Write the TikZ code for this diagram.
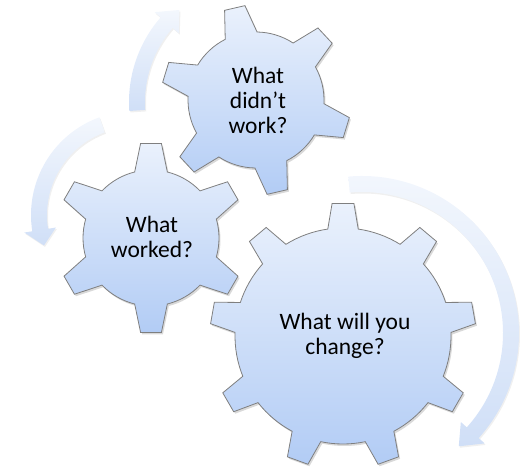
\documentclass[tikz,border=0pt]{standalone}
\usepackage{fontspec}
\setmainfont{Carlito}
\usepackage{tikz}
\usetikzlibrary{calc,shadows}
\definecolor{geartop}{HTML}{EAF1FC}
\definecolor{gearbottom}{HTML}{B2CCF5}
\definecolor{gearline}{HTML}{7F7F7F}
\definecolor{arrowtop}{HTML}{F3F7FD}
\definecolor{arrowbottom}{HTML}{D0DFF7}
\newcommand{\gearoutline}[6]{%
  ({#2-#5}:#3)
  \foreach \k [evaluate=\k as \a using {#2+(\k-1)*360/#1}] in {1,...,#1} {
    -- ({\a-#6}:#4) -- ({\a+#6}:#4) -- ({\a+#5}:#3)
    arc[start angle=\a+#5, end angle=\a+360/#1-#5, radius=#3]
  } -- cycle}
\newcommand{\arcarrow}[6]{%
  ([shift={#1}]#4:{#2+#3}) arc[start angle=#4, end angle=#5, radius=#2+#3]
  -- ([shift={#1}]#5:{#2+2*#3}) -- ([shift={#1}]#6:#2)
  -- ([shift={#1}]#5:{#2-2*#3}) -- ([shift={#1}]#5:{#2-#3})
  arc[start angle=#5, end angle=#4, radius=#2-#3] -- cycle}
\tikzset{
  gear/.style={
    draw=gearline,
    line width=0.8pt,
    top color=geartop,
    bottom color=gearbottom,
    drop shadow={shadow xshift=1.5pt, shadow yshift=-2pt, opacity=0.3}
  },
  cyclearrow/.style={
    top color=arrowtop,
    bottom color=arrowbottom,
    drop shadow={shadow xshift=1pt, shadow yshift=-1.5pt, opacity=0.12}
  },
  gearlabel/.style={
    align=center,
    font=\fontsize{23.5}{25}\selectfont,
    inner sep=0pt
  }
}

\begin{document}
\begin{tikzpicture}[x=1pt, y=1pt]
    \useasboundingbox (0,0) rectangle (530,468);
    \coordinate (gearA) at (256,368);
    \coordinate (gearB) at (151,230);
    \coordinate (gearC) at (343,132);
    \path[cyclearrow] \arcarrow{(258,366)}{121}{8}{184}{139}{130.5};
    \path[cyclearrow] \arcarrow{(135,253)}{96}{8}{110}{189}{198.5};
    \path[cyclearrow] \arcarrow{(362,135)}{149}{8}{95}{-42}{-49.5};
    \draw[gear, shift={(gearA)}] \gearoutline{6}{43}{68}{95}{13.9}{6.3};
    \draw[gear, shift={(gearB)}] \gearoutline{6}{30}{68}{95}{13.9}{6.3};
    \draw[gear, shift={(gearC)}] \gearoutline{9}{10}{108}{133}{8.1}{4.7};
    \node[gearlabel] (didnt) at (258,368) {What\\didn’t\\work?};
    \node[gearlabel] (worked) at (152,231) {What\\worked?};
    \node[gearlabel] (change) at (345,132) {What will you\\change?};
\end{tikzpicture}
\end{document}
